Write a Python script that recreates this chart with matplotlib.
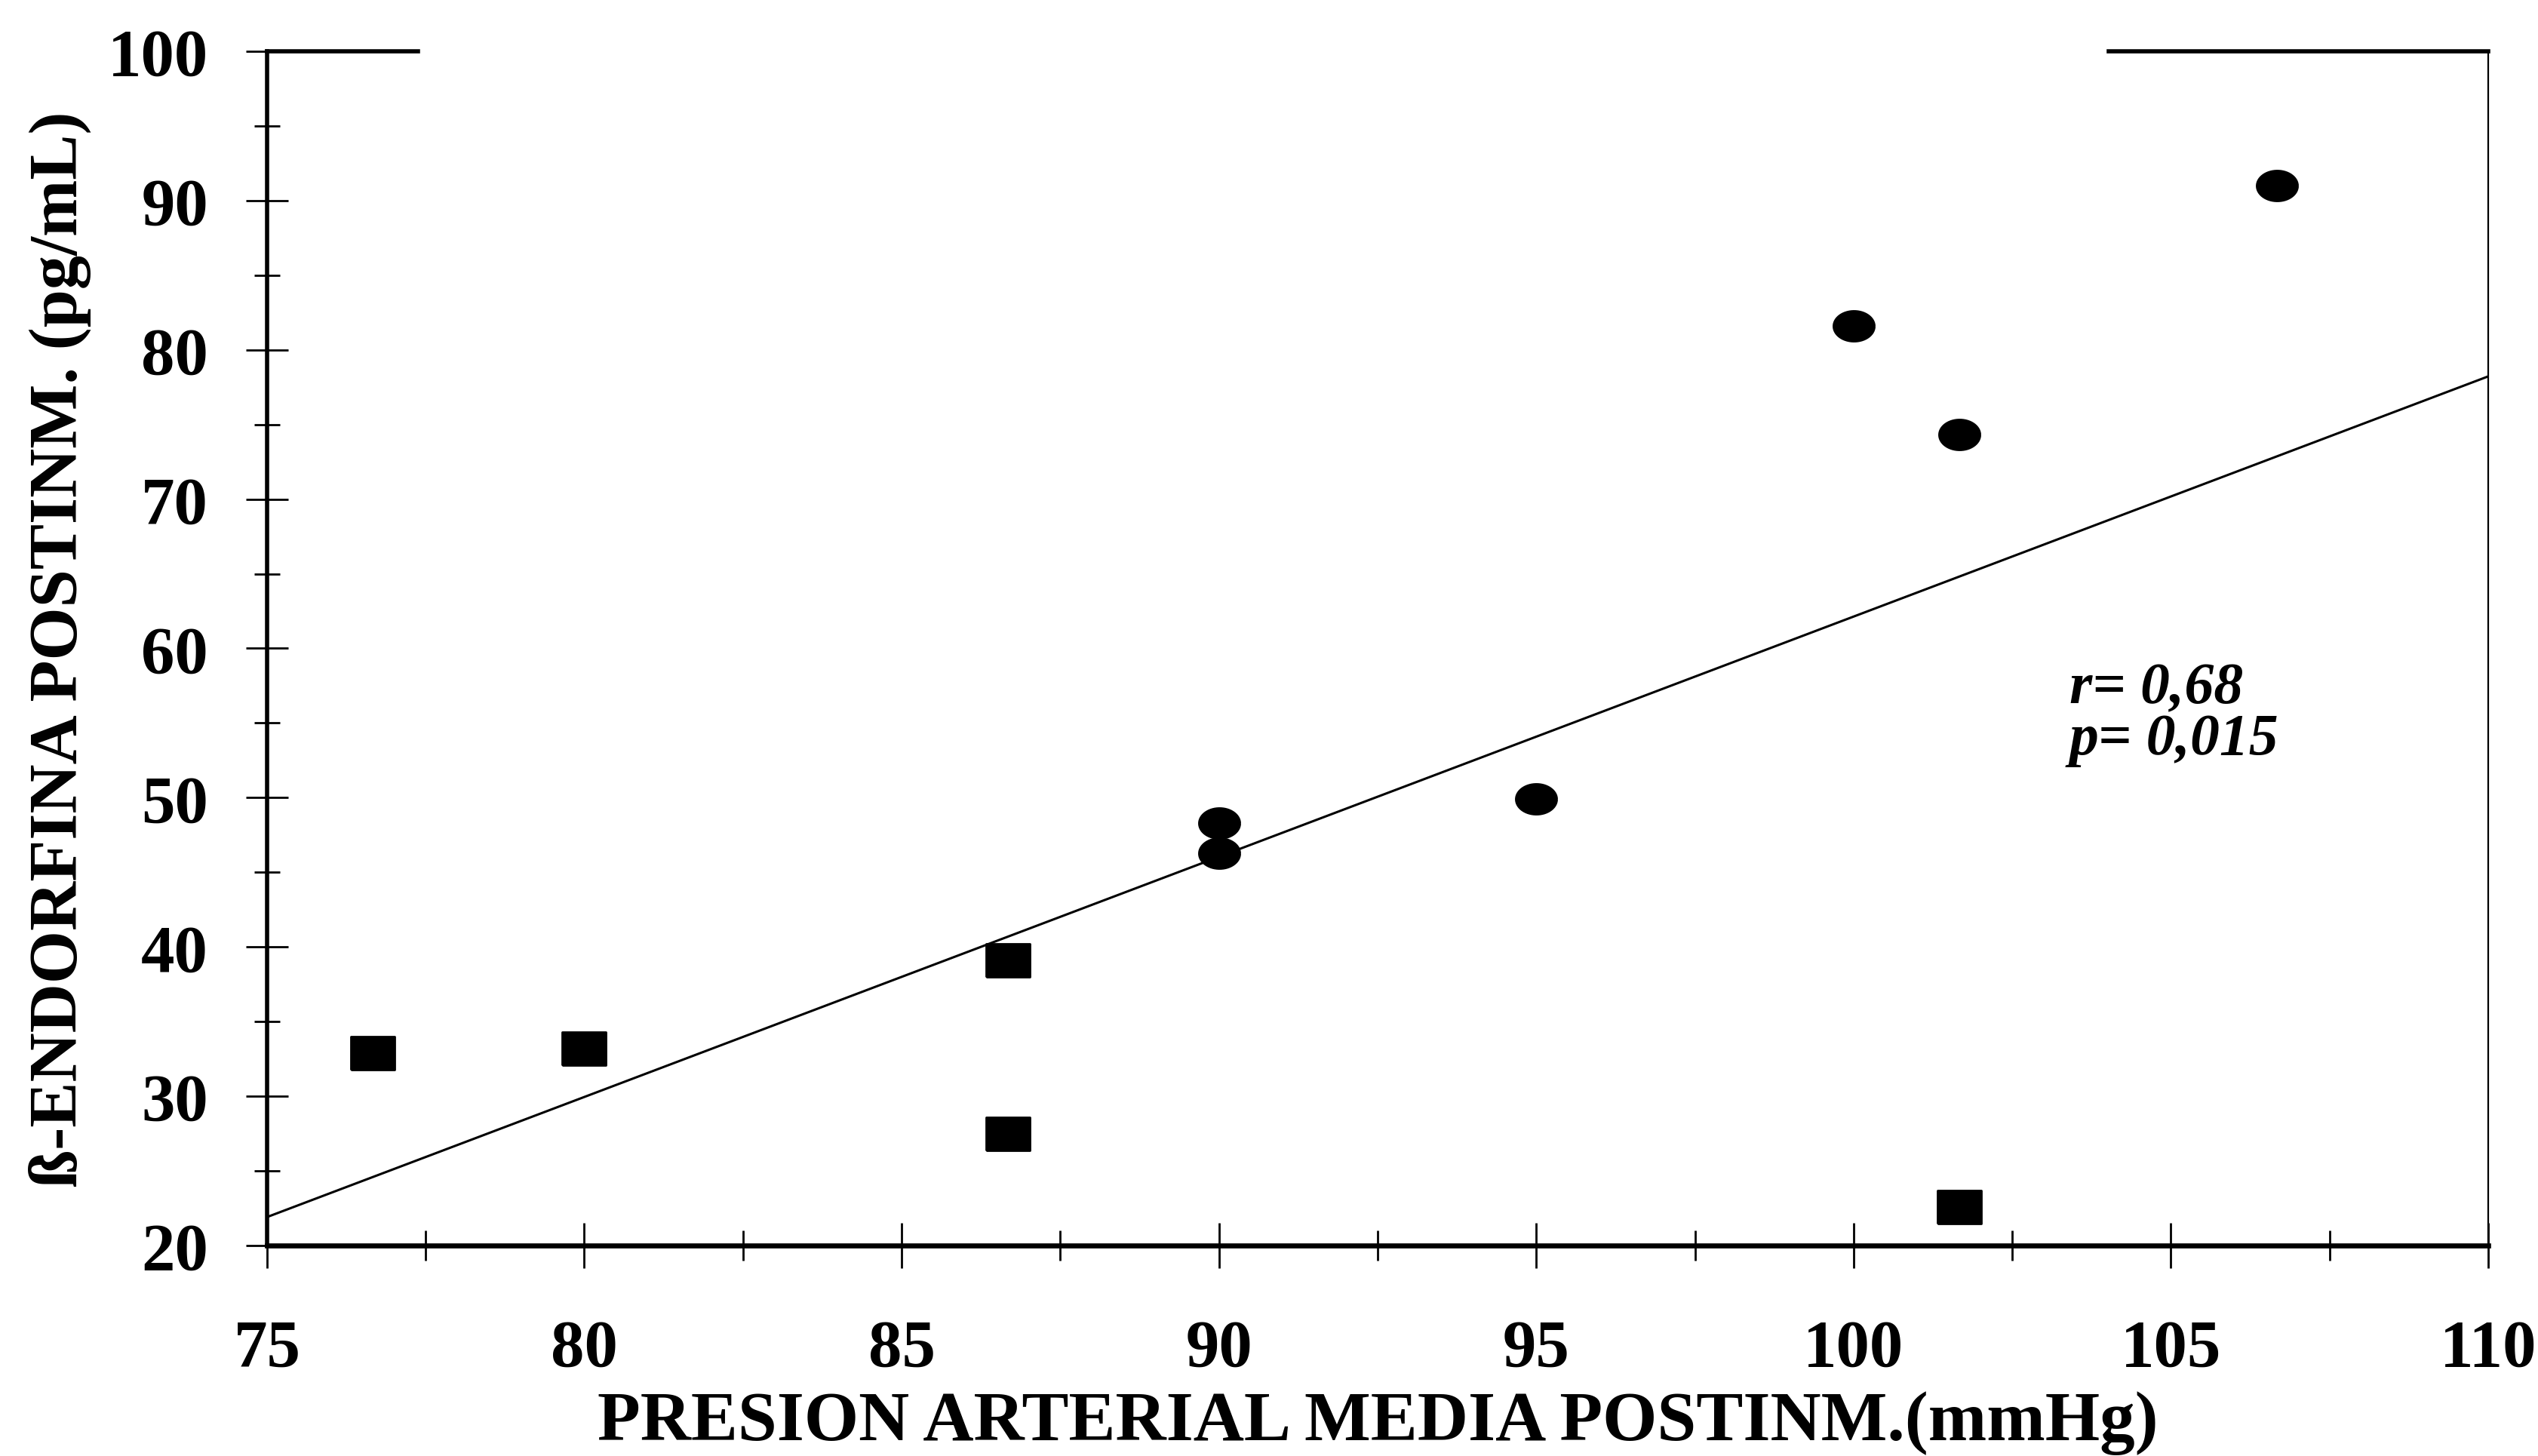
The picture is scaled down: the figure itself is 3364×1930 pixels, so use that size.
import matplotlib.pyplot as plt
import numpy as np
from matplotlib.ticker import MultipleLocator

plt.rcParams['font.family'] = ['Liberation Serif', 'DejaVu Serif']
plt.rcParams['font.weight'] = 'bold'

# squares
sq_x = [76.67, 80.0, 86.67, 86.67, 101.67]
sq_y = [32.9, 33.2, 39.1, 27.5, 22.6]
# circles
ci_x = [90.0, 90.0, 95.0, 100.0, 101.67, 106.67]
ci_y = [48.3, 46.3, 49.9, 81.6, 74.3, 91.0]

all_x = np.array(sq_x + ci_x)
all_y = np.array(sq_y + ci_y)
slope, intercept = np.polyfit(all_x, all_y, 1)

fig = plt.figure(figsize=(16.82, 9.655), dpi=200)
ax = fig.add_axes([0.1052, 0.1445, 0.8752, 0.8198])

# wide shapes, as in the scanned figure
rect = [(-1.2, -0.9), (1.2, -0.9), (1.2, 0.9), (-1.2, 0.9), (-1.2, -0.9)]
t = np.linspace(0, 2 * np.pi, 60)
ell = list(zip(1.35 * np.cos(t), 1.0 * np.sin(t)))

xs = np.array([75, 110])
ax.plot(xs, slope * xs + intercept, color='black', lw=1.1, zorder=2)
ax.scatter(sq_x, sq_y, marker=rect, s=450, color='black', zorder=3)
ax.scatter(ci_x, ci_y, marker=ell, s=380, color='black', zorder=3)

ax.set_xlim(75, 110)
ax.set_ylim(20, 100)
ax.xaxis.set_major_locator(MultipleLocator(5))
ax.xaxis.set_minor_locator(MultipleLocator(2.5))
ax.yaxis.set_major_locator(MultipleLocator(10))
ax.yaxis.set_minor_locator(MultipleLocator(5))

ax.tick_params(axis='both', which='major', direction='inout', width=1.0,
               labelsize=32, color='black')
ax.tick_params(axis='x', which='major', length=21.6, pad=24)
ax.tick_params(axis='x', which='minor', direction='inout', length=14.4, width=1.0)
ax.tick_params(axis='y', which='major', length=20, pad=18)
ax.tick_params(axis='y', which='minor', direction='inout', length=12, width=1.0)
for lab in ax.get_xticklabels() + ax.get_yticklabels():
    lab.set_fontweight('bold')

ax.spines['left'].set_linewidth(2.0)
ax.spines['bottom'].set_linewidth(2.4)
ax.spines['right'].set_linewidth(0.8)
ax.spines['top'].set_visible(False)
# top frame only partly visible
ax.plot([0, 0.068], [1, 1], transform=ax.transAxes, color='black', lw=2.0, clip_on=False)
ax.plot([0.829, 1], [1, 1], transform=ax.transAxes, color='black', lw=2.0, clip_on=False)

ax.set_xlabel('PRESION ARTERIAL MEDIA POSTINM.(mmHg)', fontsize=33.5, fontweight='bold', labelpad=5)
ax.set_ylabel('ß-ENDORFINA POSTINM. (pg/mL)', fontsize=32.5, fontweight='bold', labelpad=8)

ax.text(103.4, 55.6, 'r= 0,68\np= 0,015', fontsize=28, fontweight='bold', style='italic',
        va='center', ha='left', linespacing=0.95)

fig.savefig('out.png', dpi=200)
